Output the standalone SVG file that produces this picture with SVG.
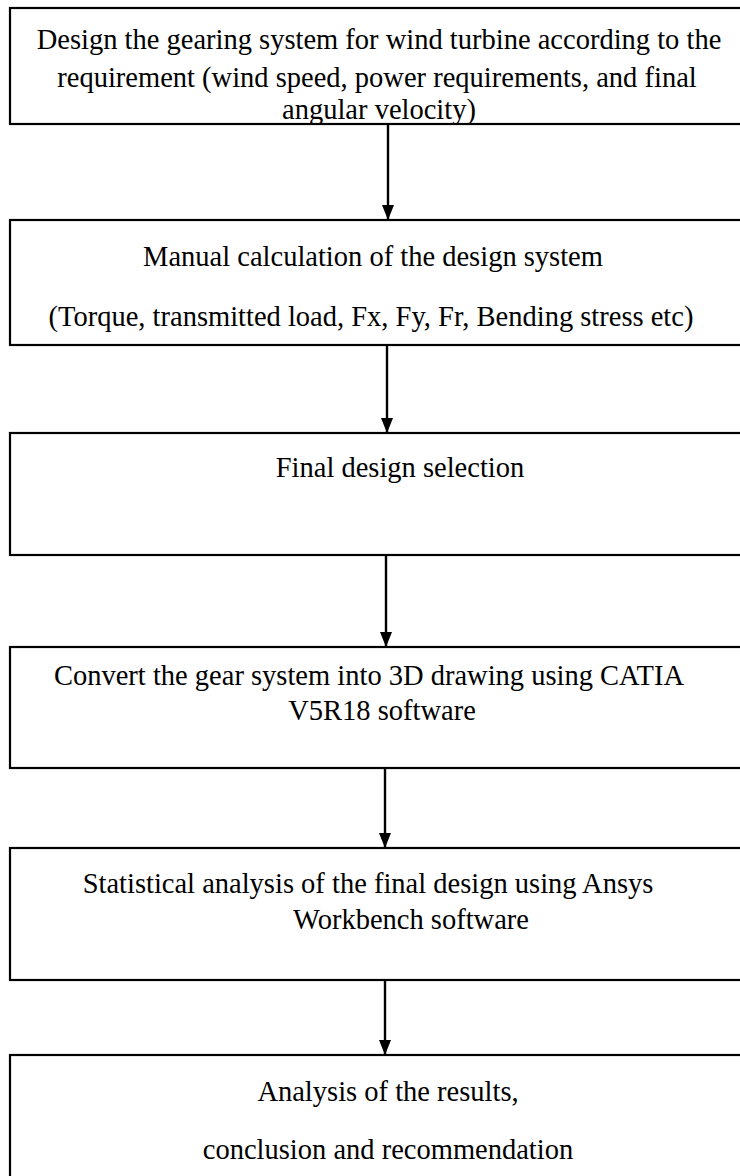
<svg xmlns="http://www.w3.org/2000/svg" width="740" height="1176" viewBox="0 0 740 1176">
<defs>
<style>
.box{fill:#fff;stroke:#000;stroke-width:2.2}
.t{font-family:"Liberation Serif","Times New Roman",serif;font-size:28.5px;fill:#000;text-anchor:middle}
.c{stroke:#000;stroke-width:2.4;fill:none}
</style>
<marker id="ah" markerWidth="15" markerHeight="12" refX="15" refY="6" orient="auto" markerUnits="userSpaceOnUse" viewBox="0 0 15 12">
<path d="M0,0 L15,6 L0,12 Z" fill="#000"/>
</marker>
</defs>
<rect width="740" height="1176" fill="#fff"/>
<g id="n1">
<rect class="box" x="10" y="8" width="740" height="116"/>
<text class="t" x="379" y="49">Design the gearing system for wind turbine according to the</text>
<text class="t" x="377" y="87">requirement (wind speed, power requirements, and final</text>
<text class="t" x="379" y="119">angular velocity)</text>
</g>
<g id="n2">
<rect class="box" x="10" y="220" width="740" height="125"/>
<text class="t" x="373" y="266">Manual calculation of the design system</text>
<text class="t" x="371" y="326">(Torque, transmitted load, Fx, Fy, Fr, Bending stress etc)</text>
</g>
<g id="n3">
<rect class="box" x="10" y="433" width="740" height="122"/>
<text class="t" x="400" y="477">Final design selection</text>
</g>
<g id="n4">
<rect class="box" x="10" y="647" width="740" height="121"/>
<text class="t" x="369" y="685">Convert the gear system into 3D drawing using CATIA</text>
<text class="t" x="382" y="720">V5R18 software</text>
</g>
<g id="n5">
<rect class="box" x="10" y="848" width="740" height="132"/>
<text class="t" x="368" y="893">Statistical analysis of the final design using Ansys</text>
<text class="t" x="411" y="929">Workbench software</text>
</g>
<g id="n6">
<rect class="box" x="10" y="1055" width="740" height="140"/>
<text class="t" x="388" y="1101">Analysis of the results,</text>
<text class="t" x="388" y="1159">conclusion and recommendation</text>
</g>
<g id="connectors">
<line class="c" x1="388" y1="124" x2="388" y2="220" marker-end="url(#ah)"/>
<line class="c" x1="387" y1="345" x2="387" y2="433" marker-end="url(#ah)"/>
<line class="c" x1="386" y1="555" x2="386" y2="647" marker-end="url(#ah)"/>
<line class="c" x1="385" y1="768" x2="385" y2="848" marker-end="url(#ah)"/>
<line class="c" x1="385" y1="980" x2="385" y2="1055" marker-end="url(#ah)"/>
</g>
</svg>
